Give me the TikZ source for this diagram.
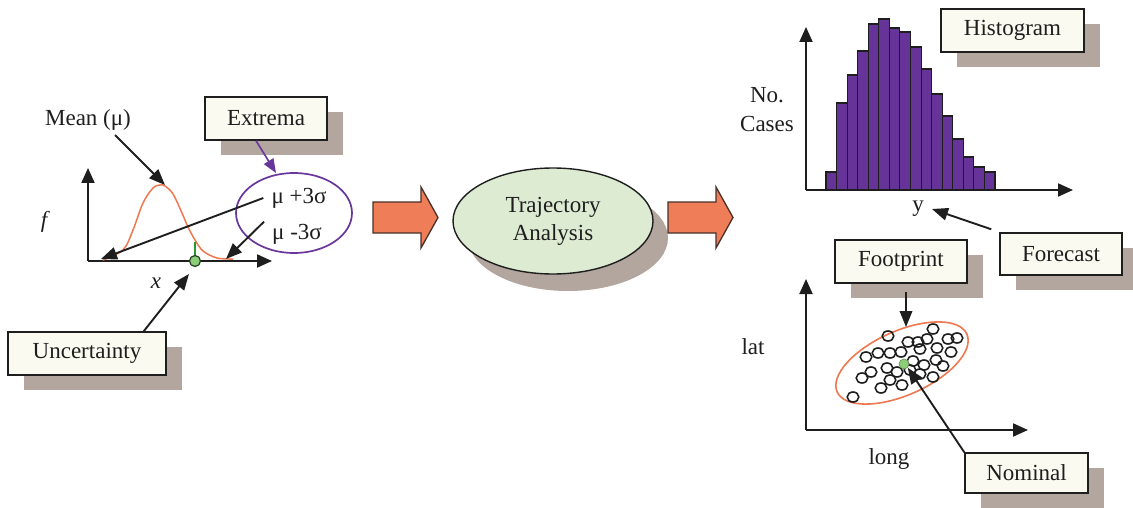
\documentclass[tikz,border=0pt]{standalone}
\usepackage{fontspec}
\setmainfont{Liberation Serif}
\usetikzlibrary{arrows.meta,shadows,shapes.geometric,calc}
\definecolor{shadowc}{RGB}{178,166,158}
\definecolor{boxfill}{RGB}{250,250,240}
\definecolor{blockc}{RGB}{238,125,88}
\definecolor{curvec}{RGB}{240,120,80}
\definecolor{barc}{RGB}{102,51,153}
\definecolor{purplec}{RGB}{105,55,155}
\definecolor{ellfill}{RGB}{221,235,211}
\definecolor{dotc}{RGB}{140,205,120}
\definecolor{greenc}{RGB}{40,150,50}
\definecolor{inkc}{RGB}{30,30,30}
\begin{document}
\begin{tikzpicture}[x=1pt,y=-1pt,
  lbl/.style={font=\fontsize{23}{29}\selectfont, text=inkc},
  labelbox/.style={lbl, draw=inkc, line width=1.4pt, fill=boxfill,
    minimum height=43pt, inner sep=0pt,
    drop shadow={shadow xshift=16pt, shadow yshift=-15pt, fill=shadowc, opacity=1}},
  axis/.style={line width=2pt, draw=inkc, -{Triangle[length=15pt,width=13pt]}},
  pointer/.style={line width=1.9pt, draw=inkc, -{Triangle[length=16pt,width=12.5pt]}},
  blockarrow/.style={fill=blockc, draw=inkc!80!blockc, line width=1.3pt},
  bar/.style={fill=barc, draw=inkc, line width=1.1pt},
  sample/.style={draw=inkc, line width=1.6pt},
]
\useasboundingbox (0,0) rectangle (1133,508);

% ---------- input distribution ----------
\coordinate (o1) at (88,261);
\draw[axis] (o1) -- (88,168);
\draw[axis] (o1) -- (272,261);
\node[lbl, font=\fontsize{23}{29}\selectfont\itshape] (flab) at (44,222) {f};
\node[lbl, font=\fontsize{23}{29}\selectfont\itshape] (xlab) at (156,283) {x};

\draw[curvec, line width=1.5pt] plot[smooth, tension=0.55] coordinates
  {(103,260) (123,250) (133,230) (143,203) (153,188) (160,185) (165,186)
   (173,194) (182,213) (188,227) (195,240) (203,251) (217,258) (233,259)};
\draw[greenc, line width=1.6pt] (195,242) -- (195,261);
\node[circle, fill=dotc, draw=inkc!70!greenc, line width=1.2pt, minimum size=11pt, inner sep=0pt] (xdot) at (195,261) {};

\node[lbl] (mean) at (88,120) {Mean (μ)};
\coordinate (meanfrom) at (115,135);
\coordinate (peak) at (165,185);
\draw[pointer] (meanfrom) -- (peak);

\node[draw=purplec, line width=1.7pt, ellipse, minimum width=116pt, minimum height=80pt] (exset) at (294,213) {};
\node[lbl, inner xsep=8pt, inner ysep=2pt] (hi) at (299,198) {μ +3σ};
\node[lbl, inner xsep=8pt, inner ysep=2pt] (lo) at (297,234) {μ -3σ};
\coordinate (lowend) at (101,259);
\coordinate (highend) at (226,259);
\draw[pointer] (hi.west) -- (lowend);
\draw[pointer] (lo.north west) -- (highend);

\node[labelbox, minimum width=122pt] (extrema) at (266,118.5) {Extrema};
\coordinate (exmark) at (276,173);
\draw[purplec, line width=1.6pt, -{Triangle[length=14pt,width=11pt]}]
  ($(extrema.south)+(-10,0)$) -- (exmark);

\node[labelbox, minimum width=158pt] (unc) at (87,353.5) {Uncertainty};
\coordinate (xpoint) at (189,274);
\draw[pointer] ($(unc.north east)+(-23,0)$) -- (xpoint);

% ---------- processing ----------
\draw[blockarrow] (373,202) -- (421,202) -- (421,187) -- (438,217.5)
  -- (421,248) -- (421,233) -- (373,233) -- cycle;
\node[ellipse, fill=ellfill, draw=inkc, line width=1.4pt,
  minimum width=200pt, minimum height=106pt, align=center, inner sep=0pt,
  lbl, font=\fontsize{23}{28}\selectfont,
  drop shadow={shadow xshift=15pt, shadow yshift=-17pt, fill=shadowc, opacity=1}]
  (traj) at (553,221) {Trajectory\\Analysis};
\draw[blockarrow] (668,202) -- (716,202) -- (716,187) -- (733,217.5)
  -- (716,248) -- (716,233) -- (668,233) -- cycle;

% ---------- histogram ----------
\foreach \t [count=\i from 0] in {172,103,75,51,24,19,28,32,47,69,94,116,139,157,167,172} {
  \draw[bar] ({826+\i*10.5625},190) rectangle ({826+(\i+1)*10.5625},\t);
}
\coordinate (o2) at (806,190);
\draw[axis] (o2) -- (806,27);
\draw[axis] (o2) -- (1073,190);
\node[lbl, align=center] (cases) at (767,110) {No.\\Cases};
\node[lbl, inner xsep=8pt] (ylab) at (918,209) {y};
\node[labelbox, minimum width=143pt] (hist) at (1012.5,30.5) {Histogram};
\node[labelbox, minimum width=122pt, minimum height=42pt] (forecast) at (1061,254) {Forecast};
\draw[pointer] ($(forecast.north west)+(-8,-3)$) -- (ylab.east);

% ---------- footprint ----------
\coordinate (o3) at (806,430);
\draw[axis] (o3) -- (806,279);
\draw[axis] (o3) -- (1028,430);
\node[lbl] (latlab) at (753,347) {lat};
\node[lbl] (longlab) at (889,459) {long};

\draw[curvec, line width=1.6pt, rotate around={24:(902,363)}] (902,363) ellipse [x radius=71, y radius=32];
\foreach \p in {(933,329),(888,336),(948,339),(957,338),(927,339),(908,342),(918,342),
  (920,349),(937,348),(951,352),(866,357),(878,353),(890,353),(901,352),(936,360),
  (943,366),(913,361),(924,365),(887,368),(897,372),(910,370),(920,374),(933,377),
  (862,378),(871,372),(890,380),(902,385),(881,388),(853,397)} {
  \draw[sample] \p ellipse [x radius=5.8, y radius=5];
}
\node[circle, fill=dotc, draw=dotc!70!black, line width=0.6pt, minimum size=10pt, inner sep=0pt] (nomdot) at (904,364) {};

\node[labelbox, minimum width=132pt] (foot) at (901,261.5) {Footprint};
\coordinate (fptop) at (906,327);
\draw[pointer] ($(foot.south -| fptop)+(0,8)$) -- (fptop);

\node[labelbox, minimum width=123pt, minimum height=40pt] (nominal) at (1026.5,473) {Nominal};
\draw[pointer] (nominal.north west) -- (nomdot.south east);
\end{tikzpicture}
\end{document}
